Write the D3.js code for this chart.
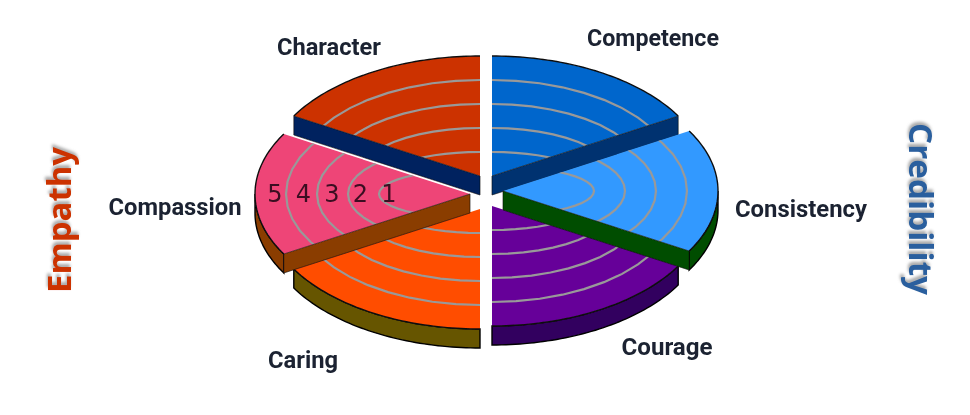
<!DOCTYPE html>
<html>
<head>
<meta charset="utf-8">
<script src="https://cdnjs.cloudflare.com/ajax/libs/d3/7.8.5/d3.min.js"></script>
<style>
html,body{margin:0;padding:0;background:#fff;}
svg{display:block;}
</style>
</head>
<body>
<svg id="c" width="970" height="415"></svg>
<script>
// ---- data ----
const categories = ["Competence","Consistency","Courage","Caring","Compassion","Character"];
const weights = [1,1,1,1,1,1];
const ringLevels = [1,2,3,4];
const scaleLabels = [5,4,3,2,1];
const groupTitles = ["Empathy","Credibility"];

// ---- style ----
const faceColors = ["#0066cc","#3399ff","#660099","#ff4d00","#ee4477","#cc3300"];
const wallColors = ["#003370","#004d00","#33005f","#665500","#8a3c00","#00205f"];
const explodeX = [6,17,6,-6,-16,-6];
const explodeY = [-16,-1,14,17,2,-16];
const drawOrder = [5,0,2,3,1,4];
const labelBoxes = [[653,38,132],[801,209,132],[667,347,91],[303,360,70],[175,207,133],[329,47,104]];

// ---- scales ----
const baseX = 486, baseY = 192, depth = 19;
const rxScale = d3.scaleLinear().domain([0,5]).range([60,215]);
const ryScale = d3.scaleLinear().domain([0,5]).range([0,120]);
const labelScale = d3.scaleLinear().domain([1,5]).range([81,195]);

const arcs = d3.pie().sort(null).value(d=>d)(weights);
const svg = d3.select("#c");
const defs = svg.append("defs");
defs.append("filter").attr("id","soft").attr("x","-5%").attr("y","-5%").attr("width","110%").attr("height","110%")
  .append("feGaussianBlur").attr("stdDeviation",0.55);
const root = svg.append("g").attr("filter","url(#soft)");
const line = d3.line().x(d=>d[0]).y(d=>d[1]);

function pt(i,level,a,dz=0){
  return [baseX+explodeX[i]+rxScale(level)*Math.sin(a),
          baseY+explodeY[i]-ryScale(level)*Math.cos(a)+dz];
}
function arcPts(i,level,a0,a1,dz=0){
  const n=48;
  return d3.range(n+1).map(k=>pt(i,level,a0+(a1-a0)*k/n,dz));
}
const center = i=>[baseX+explodeX[i],baseY+explodeY[i]];
const H = Math.PI/2, T = Math.PI*2;

drawOrder.forEach(i=>{
  const s = arcs[i];
  const g = root.append("g").attr("class","slice").datum(categories[i]);
  // outer rim
  const r0 = Math.max(s.startAngle,H), r1 = Math.min(s.endAngle,3*H);
  if(r1>r0){
    const up = arcPts(i,5,r0,r1), lo = arcPts(i,5,r1,r0,depth);
    g.append("path").attr("d",line(up.concat(lo))+"Z")
      .attr("fill",wallColors[i]).attr("stroke","#000").attr("stroke-width",1.4);
  }
  // cut walls facing the viewer
  const edges=[];
  if(s.endAngle>0.01 && s.endAngle<Math.PI-0.01) edges.push(s.endAngle);
  if(s.startAngle>Math.PI+0.01 && s.startAngle<T-0.01) edges.push(s.startAngle);
  // face
  const c = center(i);
  const outer = arcPts(i,5,s.startAngle,s.endAngle);
  const faceD = line([c].concat(outer))+"Z";
  g.append("path").attr("d",faceD).attr("fill",faceColors[i]);
  defs.append("clipPath").attr("id","clip"+i).append("path").attr("d",faceD);
  // rings: whole ellipses, clipped by the slice face
  ringLevels.forEach(l=>{
    g.append("path").attr("d",line(arcPts(i,l,0,T))+"Z")
      .attr("clip-path","url(#clip"+i+")")
      .attr("fill","none").attr("stroke","#999").attr("stroke-width",2.2);
  });
  // arc outline
  g.append("path").attr("d",line(outer)).attr("fill","none").attr("stroke","#111").attr("stroke-width",1.4);
  // walls
  edges.forEach(a=>{
    const e = pt(i,5,a);
    const q=[c,e,[e[0],e[1]+depth],[c[0],c[1]+depth]];
    g.append("path").attr("d",line(q)+"Z").attr("fill",wallColors[i])
      .attr("stroke","#111").attr("stroke-opacity",0.6).attr("stroke-width",1);
  });
});

// ring numbers on Compassion
const ci = categories.indexOf("Compassion");
root.selectAll("text.num").data(scaleLabels).join("text").attr("class","num")
  .attr("x",d=>center(ci)[0]-labelScale(d)).attr("y",202)
  .attr("text-anchor","middle").attr("font-family","DejaVu Sans").attr("font-size",24)
  .attr("fill","#3a1020").text(d=>d);

// category labels
root.selectAll("text.cat").data(categories).join("text").attr("class","cat")
  .attr("x",(d,i)=>labelBoxes[i][0]).attr("y",(d,i)=>labelBoxes[i][1]+8)
  .attr("text-anchor","middle").attr("font-family","Roboto").attr("font-weight",700).attr("font-size",24)
  .attr("fill","#1a2330")
  .attr("textLength",(d,i)=>labelBoxes[i][2]).attr("lengthAdjust","spacingAndGlyphs")
  .text(d=>d);

// side titles
root.append("text").text(groupTitles[0])
  .attr("transform","translate(71,220) rotate(-90)")
  .attr("text-anchor","middle").attr("font-family","Open Sans").attr("font-weight",700).attr("font-size",32)
  .attr("fill","#cc3300").attr("textLength",146).attr("lengthAdjust","spacingAndGlyphs")
  .style("filter","drop-shadow(3px -1px 1.5px #aaa)");
root.append("text").text(groupTitles[1])
  .attr("transform","translate(909,209) rotate(90)")
  .attr("text-anchor","middle").attr("font-family","Open Sans").attr("font-weight",700).attr("font-size",32)
  .attr("fill","#2a5f9e").attr("textLength",172).attr("lengthAdjust","spacingAndGlyphs")
  .style("filter","drop-shadow(-3px 1px 1.5px #aaa)");
</script>
</body>
</html>
